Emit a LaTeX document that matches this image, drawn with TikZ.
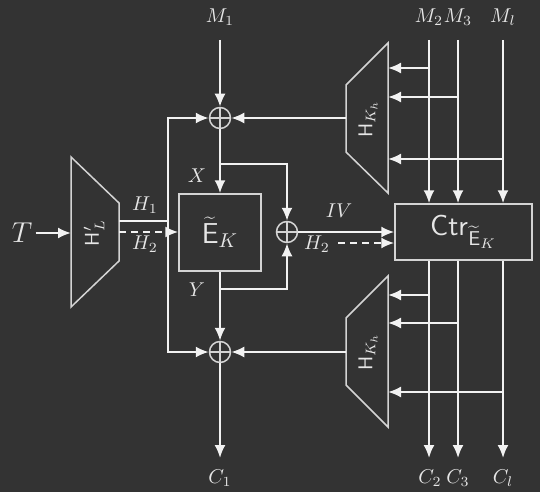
\documentclass[tikz,border=0pt]{standalone}
\usetikzlibrary{arrows.meta}
\definecolor{bg}{HTML}{333333}
\definecolor{fg}{HTML}{F2F2F2}
\definecolor{edge}{HTML}{D4D4D4}
\definecolor{txt}{HTML}{E6E6E6}
\begin{document}
\begin{tikzpicture}[x=0.5pt,y=-0.5pt,
  line/.style={draw=fg, line width=1pt},
  arr/.style={line, -{Latex[length=6.5pt,width=5.5pt]}},
  hdash/.style={arr, dash pattern=on 3.5pt off 2.5pt},
  boxst/.style={draw=edge, line width=0.75pt},
  lbl/.style={text=txt, inner sep=0pt},
  xorst/.style={circle, draw=edge, line width=0.75pt, minimum size=10.5pt, inner sep=0pt,
    path picture={\draw[edge,line width=0.75pt] (path picture bounding box.north) -- (path picture bounding box.south) (path picture bounding box.west) -- (path picture bounding box.east);}}]
\fill[bg] (0,0) rectangle (540,492);
\useasboundingbox (0,0) rectangle (540,492);

% trapezoids
\draw[boxst] (71,157) -- (119,203) -- (119,261) -- (71,307) -- cycle;
\node[lbl, rotate=90] (HL) at (94,233) {$\mathsf{H}'_L$};
\draw[boxst] (346,85) -- (388,43) -- (388,193) -- (346,152) -- cycle;
\node[lbl, rotate=90] (HU) at (368,119) {$\mathsf{H}_{K_h}$};
\draw[boxst] (346,318) -- (388,276) -- (388,427) -- (346,385) -- cycle;
\node[lbl, rotate=90] (HD) at (368,352) {$\mathsf{H}_{K_h}$};

% boxes
\node[boxst, text=txt, minimum width=41pt, minimum height=38.5pt, inner sep=0pt, font=\Large] (E) at (220,232.5) {$\widetilde{\mathsf{E}}_K$};
\node[boxst, text=txt, minimum width=68.5pt, minimum height=28pt, inner sep=0pt, font=\Large] (ctr) at (463.5,232) {$\mathsf{Ctr}_{\widetilde{\mathsf{E}}_K}$};

% xors
\node[xorst] (xt) at (220,118) {};
\node[xorst] (xm) at (287,232) {};
\node[xorst] (xb) at (220,352) {};

% labels
\node[lbl] (T) at (22,233) {\Large $T$};
\node[lbl, anchor=base] (M1) at (220,23) {$M_1$};
\node[lbl, anchor=base] (M2) at (429,23) {$M_2$};
\node[lbl, anchor=base] (M3) at (458,23) {$M_3$};
\node[lbl, anchor=base] (Ml) at (503,23) {$M_l$};
\node[lbl, anchor=base] (C1) at (220,483) {$C_1$};
\node[lbl, anchor=base] (C2) at (430,483) {$C_2$};
\node[lbl, anchor=base] (C3) at (458,483) {$C_3$};
\node[lbl, anchor=base] (Cl) at (503,483) {$C_l$};
\node[lbl] (H1) at (145,205) {$H_1$};
\node[lbl] (H2a) at (145,244) {$H_2$};
\node[lbl] (X) at (197,176) {$X$};
\node[lbl] (Y) at (197,290) {$Y$};
\node[lbl] (IV) at (339,211) {$IV$};
\node[lbl] (H2b) at (317,244) {$H_2$};

% coordinates
\coordinate (hlL) at (71,233);
\coordinate (hlR1) at (119,221);
\coordinate (hlR2) at (119,232);
\coordinate (jn) at (168,221);
\coordinate (bx) at (220,164);
\coordinate (by) at (220,289);
\coordinate (utl) at (346,118);
\coordinate (ltl) at (346,352);
\coordinate (h2s) at (338,243);
\coordinate (m1t) at (220,40);
\coordinate (m2t) at (429,40);
\coordinate (m3t) at (458,40);
\coordinate (mlt) at (503,40);
\coordinate (c1e) at (220,458);
\coordinate (c2e) at (429,458);
\coordinate (c3e) at (458,458);
\coordinate (cle) at (503,458);

% left part
\draw[arr] (T.east) ++(3,0) -- (hlL);
\draw[line] (hlR1) -- (jn);
\draw[hdash] (hlR2) -- (hlR2 -| E.west);
\draw[arr] (jn) |- (xt);
\draw[arr] (jn) |- (xb);
\draw[arr] (m1t) -- (xt);
\draw[arr] (xt) -- (E);
\draw[arr] (bx) -| (xm);
\draw[line] (E) -- (by);
\draw[arr] (by) -- (xb);
\draw[arr] (by) -| (xm);
\draw[arr] (xb) -- (c1e);
\draw[arr] (utl) -- (xt);
\draw[arr] (ltl) -- (xb);
\draw[arr] (xm) -- (xm -| ctr.west);
\draw[hdash] (h2s) -- (h2s -| ctr.west);

% right verticals
\foreach \t/\e in {m2t/c2e, m3t/c3e, mlt/cle}{
  \draw[arr] (\t) -- (\t |- ctr.north);
  \draw[arr] (\e |- ctr.south) -- (\e);
}
% arrows into trapezoids
\foreach \x/\y in {429/68, 458/97, 503/159, 429/295, 458/323, 503/392}{
  \draw[arr] (\x,\y) -- (388,\y);
}
\end{tikzpicture}
\end{document}
